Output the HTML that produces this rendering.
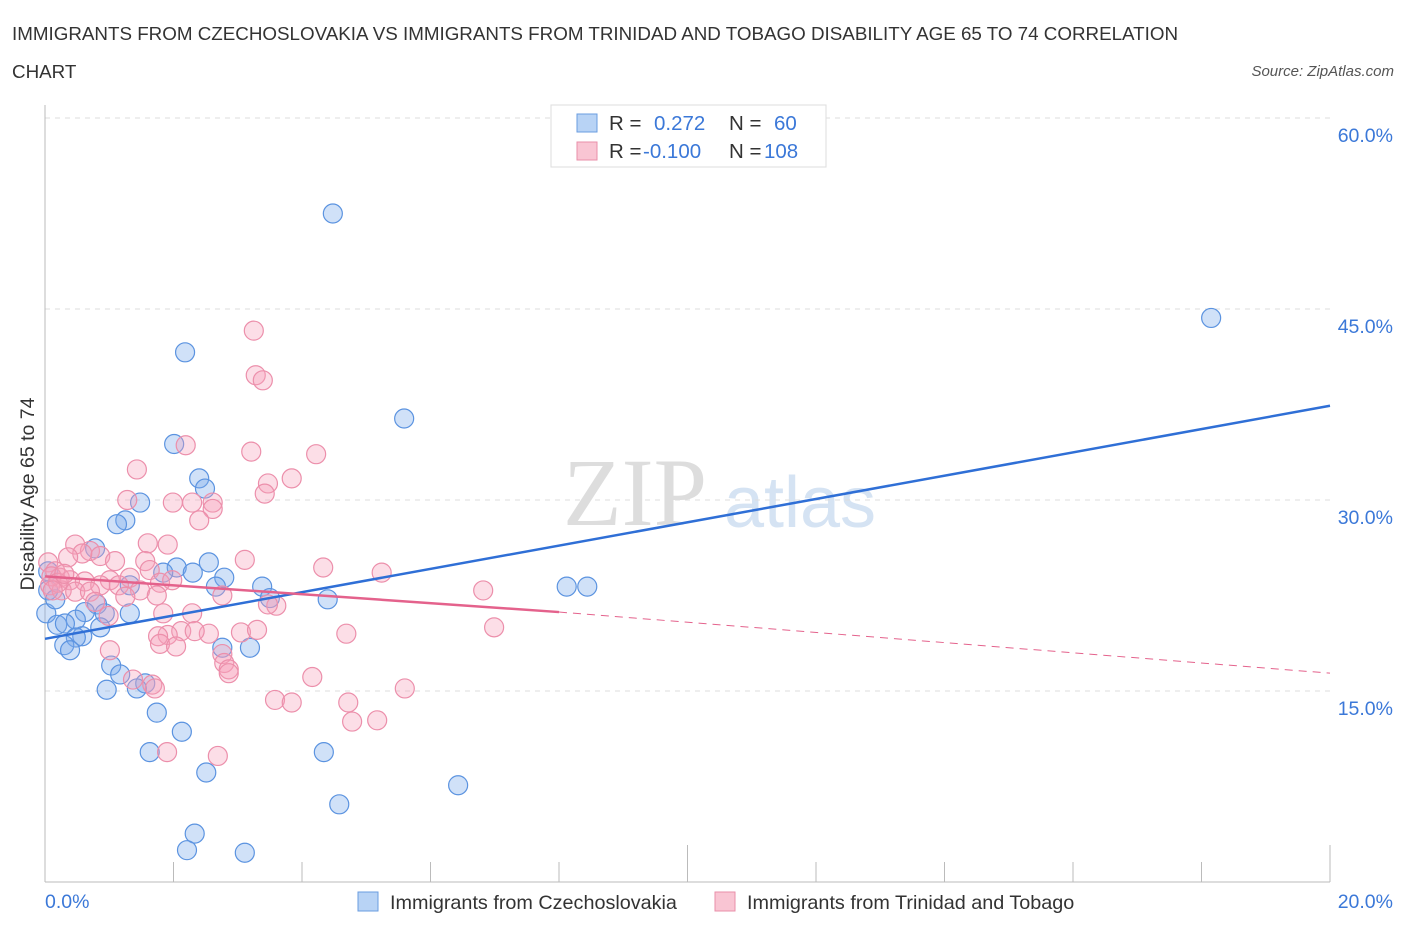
<!DOCTYPE html>
<html><head><meta charset="utf-8"><style>
body{margin:0;background:#fff;font-family:"Liberation Sans",sans-serif}
</style></head><body>
<svg id="c" width="1406" height="930" xmlns="http://www.w3.org/2000/svg">
<text x="12" y="40" font-size="18.8" fill="#333">IMMIGRANTS FROM CZECHOSLOVAKIA VS IMMIGRANTS FROM TRINIDAD AND TOBAGO DISABILITY AGE 65 TO 74 CORRELATION</text>
<text x="12" y="78" font-size="18.8" fill="#333">CHART</text>
<text x="1394" y="76" font-size="15" fill="#555" font-style="italic" text-anchor="end">Source: ZipAtlas.com</text>
<text x="635" y="525" font-size="96" fill="#ddd" font-family="Liberation Serif" text-anchor="middle">ZIP</text>
<text x="800" y="527" font-size="72" fill="#d5e3f3" text-anchor="middle">atlas</text>
<g id="grid"></g><g id="axes"></g><g id="pts"></g><g id="lines"></g>
<text x="34" y="494" font-size="19.5" fill="#333" text-anchor="middle" transform="rotate(-90 34 494)">Disability Age 65 to 74</text>
<g>
<rect x="551" y="105" width="275" height="62" fill="#fff" stroke="#ddd"/>
<rect x="577" y="114" width="20" height="18" fill="#b8d3f5" stroke="#6a9de0"/>
<rect x="577" y="142" width="20" height="18" fill="#f9c5d3" stroke="#e98fa9"/>
<text x="609" y="130" font-size="20.5" fill="#333">R = </text><text x="654" y="130" font-size="20.5" fill="#3b78d8">0.272</text>
<text x="729" y="130" font-size="20.5" fill="#333">N = </text><text x="774" y="130" font-size="20.5" fill="#3b78d8">60</text>
<text x="609" y="158" font-size="20.5" fill="#333">R = </text><text x="643" y="158" font-size="20.5" fill="#3b78d8">-0.100</text>
<text x="729" y="158" font-size="20.5" fill="#333">N = </text><text x="764" y="158" font-size="20.5" fill="#3b78d8">108</text>
</g>
<g>
<rect x="358" y="892" width="20" height="19" fill="#b8d3f5" stroke="#6a9de0"/>
<text x="390" y="909" font-size="19.8" fill="#333">Immigrants from Czechoslovakia</text>
<rect x="715" y="892" width="20" height="19" fill="#f9c5d3" stroke="#e98fa9"/>
<text x="747" y="909" font-size="19.8" fill="#333">Immigrants from Trinidad and Tobago</text>
</g>
</svg>
<script>
const yTicks=[15,30,45,60];
const xTickLabels=["0.0%","20.0%"];
const blueX=[4.48,18.15,2.18,5.59,2.01,2.40,2.49,1.48,1.25,1.12,0.78,2.55,2.05,2.30,1.84,2.79,0.05,3.38,2.66,1.32,8.12,8.44,4.40,3.50,0.81,0.62,0.93,1.32,0.02,0.48,0.19,0.31,0.86,0.58,0.48,0.30,0.39,3.19,2.76,1.03,1.17,1.56,1.43,0.96,1.74,2.13,1.63,4.34,2.51,6.43,4.58,2.33,2.21,3.11,0.05,0.16];
const blueY=[52.5,44.3,41.6,36.4,34.4,31.7,30.9,29.8,28.4,28.1,26.2,25.1,24.7,24.3,24.3,23.9,24.4,23.2,23.2,23.3,23.2,23.2,22.2,22.3,21.8,21.2,21.1,21.1,21.1,20.6,20.2,20.3,20.0,19.3,19.2,18.6,18.2,18.4,18.4,17.0,16.3,15.6,15.2,15.1,13.3,11.8,10.2,10.2,8.6,7.6,6.1,3.8,2.5,2.3,22.9,22.2];
const pinkX=[3.25,3.28,3.39,2.19,3.21,4.22,1.43,3.47,3.84,3.42,1.28,1.99,2.29,2.61,2.61,2.40,1.60,1.91,0.47,0.70,3.11,0.86,0.58,0.36,1.09,1.56,0.05,4.33,5.24,1.63,0.16,0.23,0.39,0.62,1.01,1.32,0.86,1.15,1.79,0.08,0.26,0.47,0.70,1.48,1.98,6.82,1.74,1.25,2.76,3.60,3.47,0.78,0.99,1.84,2.29,6.99,2.12,1.91,1.76,2.55,2.33,3.05,3.30,4.69,1.79,2.04,1.01,2.76,2.79,2.86,2.86,4.16,1.37,1.67,1.71,5.60,3.58,3.84,4.72,4.78,5.17,1.90,2.69,0.10,0.20,0.30,0.12];
const pinkY=[43.3,39.8,39.4,34.3,33.8,33.6,32.4,31.3,31.7,30.5,30.0,29.8,29.8,29.8,29.3,28.4,26.6,26.5,26.5,26.0,25.3,25.6,25.8,25.5,25.2,25.2,25.1,24.7,24.3,24.5,24.4,23.9,23.7,23.6,23.7,23.9,23.3,23.3,23.5,23.3,22.9,22.8,22.8,22.9,23.7,22.9,22.5,22.4,22.5,21.7,21.8,22.0,20.9,21.1,21.1,20.0,19.7,19.4,19.3,19.5,19.7,19.6,19.8,19.5,18.7,18.5,18.2,17.9,17.2,16.7,16.4,16.1,15.9,15.5,15.2,15.2,14.3,14.1,14.1,12.6,12.7,10.2,9.9,24.0,23.5,24.2,22.9];
const blueTrend=[19.1,37.4];
const pinkTrend=[24.0,21.2,16.4];
const pinkSolidEnd=8.0;
const NS="http://www.w3.org/2000/svg";
const X=v=>45+v/20*1285, Y=v=>882-v*12.733;
function mk(t,a,p){const e=document.createElementNS(NS,t);for(const k in a)e.setAttribute(k,a[k]);document.getElementById(p).appendChild(e);return e;}
yTicks.forEach(t=>{
 const l=mk('line',{x1:45,x2:1330,y1:Y(t),y2:Y(t),stroke:'#ddd','stroke-dasharray':'5,5'},'grid');
 
 
 const tx=mk('text',{x:1393,y:Y(t)+24,'font-size':19.5,fill:'#3b78d8','text-anchor':'end'},'grid');tx.textContent=t.toFixed(1)+'%';
 
 
});
const ax=mk('line',{x1:45,x2:1330,y1:882,y2:882,stroke:'#bbb'},'axes');


const ay=mk('line',{x1:45,x2:45,y1:105,y2:882,stroke:'#bbb'},'axes');


for(let i=0;i<=10;i++){const v=i*2;const tk=mk('line',{x1:X(v),x2:X(v),y1:(i==5||i==10)?845:862,y2:882,stroke:'#bbb'},'axes');
 
 }
[[0,'start',45],[20,'end',1393]].forEach((d,i)=>{const t=mk('text',{x:d[2],y:908,'font-size':19.5,fill:'#3b78d8','text-anchor':d[1]},'axes');t.textContent=xTickLabels[i];
 
 });
blueX.forEach((x,i)=>{const c=mk('circle',{cx:X(x),cy:Y(blueY[i]),r:9.5,fill:'rgba(120,170,235,0.35)',stroke:'#5b93e0','stroke-width':1.2},'pts');
 
 });
pinkX.forEach((x,i)=>{const c=mk('circle',{cx:X(x),cy:Y(pinkY[i]),r:9.5,fill:'rgba(245,160,185,0.35)',stroke:'#ec8fab','stroke-width':1.2},'pts');
 
 });
const bl=mk('line',{x1:X(0),y1:Y(blueTrend[0]),x2:X(20),y2:Y(blueTrend[1]),stroke:'#2f6fd6','stroke-width':2.5},'lines');


const pl=mk('line',{x1:X(0),y1:Y(pinkTrend[0]),x2:X(pinkSolidEnd),y2:Y(pinkTrend[1]),stroke:'#e4628c','stroke-width':2.5},'lines');


const pd=mk('line',{x1:X(pinkSolidEnd),y1:Y(pinkTrend[1]),x2:X(20),y2:Y(pinkTrend[2]),stroke:'#e4628c','stroke-width':1,'stroke-dasharray':'8,6'},'lines');


</script>
</body></html>
